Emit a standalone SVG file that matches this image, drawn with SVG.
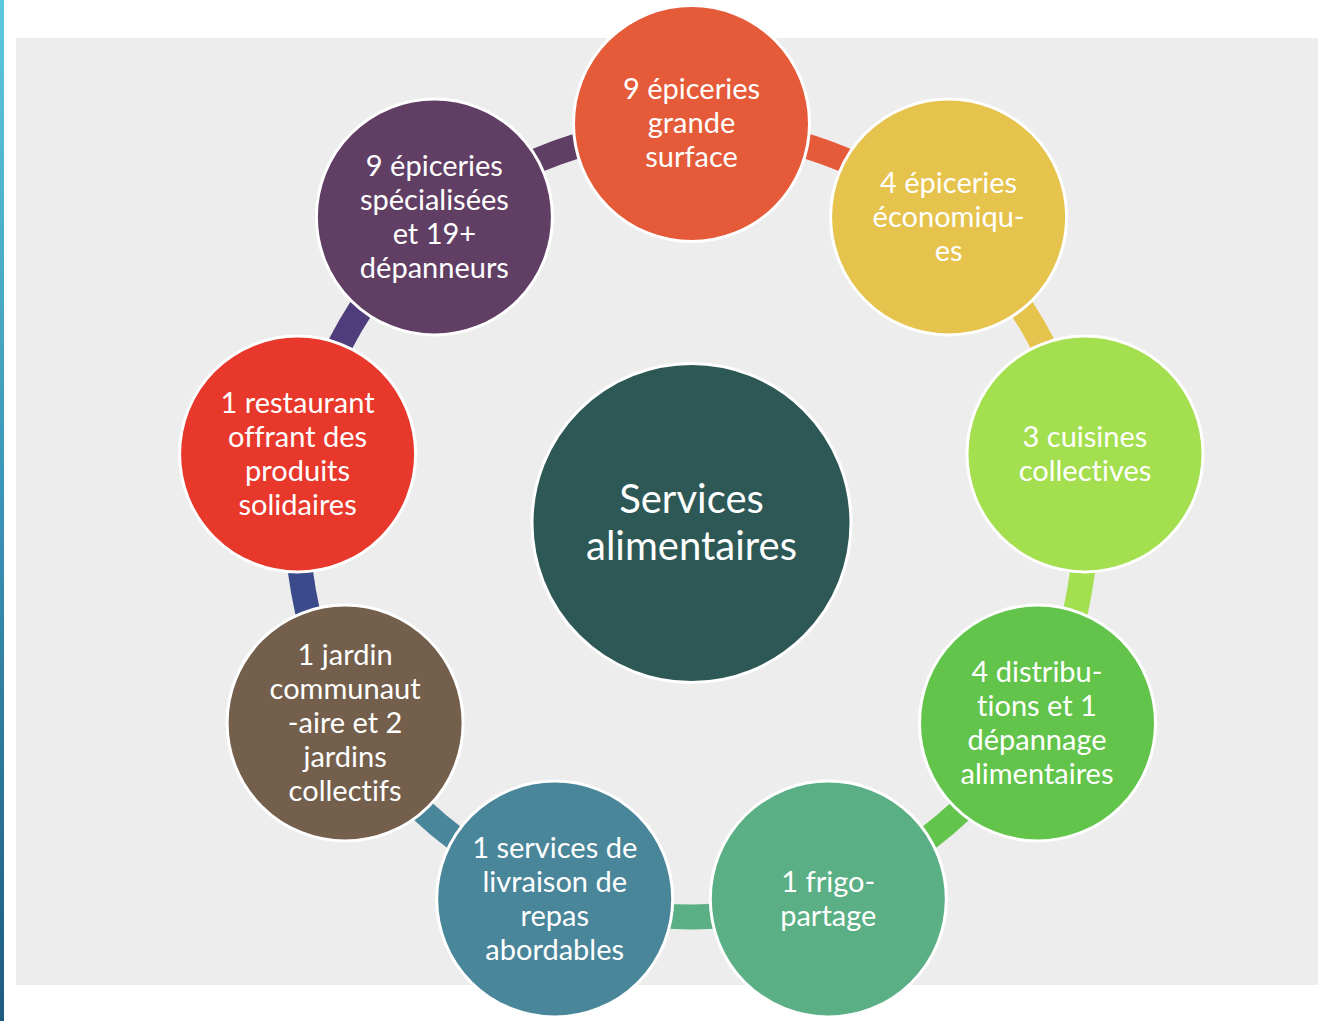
<svg xmlns="http://www.w3.org/2000/svg" width="1318" height="1021" viewBox="0 0 1318 1021">
<defs>
<linearGradient id="bar" x1="0" y1="0" x2="0" y2="1">
<stop offset="0" stop-color="#5CC8DD"/>
<stop offset="0.5" stop-color="#3A93B5"/>
<stop offset="1" stop-color="#1E5B80"/>
</linearGradient>
<style>
.n{stroke:#FFFFFF;stroke-width:3}
.t{font-family:Lato,"Open Sans","Liberation Sans",sans-serif;font-size:29px;fill:#FFFFFF;text-anchor:middle;font-variant-ligatures:none}
.tc{font-family:Lato,"Open Sans","Liberation Sans",sans-serif;font-size:40px;fill:#FFFFFF;text-anchor:middle;font-variant-ligatures:none}
.c{fill:none;stroke-width:25}
</style>
</defs>
<rect x="0" y="0" width="1318" height="1021" fill="#FFFFFF"/>
<rect x="0" y="0" width="4" height="1021" fill="url(#bar)"/>
<rect x="16" y="38" width="1302" height="947" fill="#EDEDED"/>
<g id="connectors">
<path class="c" stroke="#E55A38" d="M691.5,129 A394,394 0 0 1 944.8,221.2"/>
<path class="c" stroke="#E6C34C" d="M944.8,221.2 A394,394 0 0 1 1079.5,454.6"/>
<path class="c" stroke="#A3DF4F" d="M1079.5,454.6 A394,394 0 0 1 1032.7,720"/>
<path class="c" stroke="#62C44A" d="M1032.7,720 A394,394 0 0 1 826.2,893.2"/>
<path class="c" stroke="#5AAF84" d="M826.2,893.2 A394,394 0 0 1 556.8,893.2"/>
<path class="c" stroke="#4A869A" d="M556.8,893.2 A394,394 0 0 1 350.3,720"/>
<path class="c" stroke="#3A4A8A" d="M350.3,720 A394,394 0 0 1 303.5,454.6"/>
<path class="c" stroke="#4F3C7A" d="M303.5,454.6 A394,394 0 0 1 438.2,221.2"/>
<path class="c" stroke="#5F3F65" d="M438.2,221.2 A394,394 0 0 1 691.5,129"/>
</g>
<g id="center">
<circle class="n" cx="691.5" cy="523" r="159.5" fill="#2D5856"/>
<text class="tc" x="691.5" y="513">Services</text>
<text class="tc" x="691.5" y="560">alimentaires</text>
</g>
<g id="n1">
<circle class="n" cx="691.5" cy="123.5" r="118" fill="#E55A38"/>
<text class="t" x="691.5" y="99">9 épiceries</text>
<text class="t" x="691.5" y="133">grande</text>
<text class="t" x="691.5" y="167">surface</text>
</g>
<g id="n2">
<circle class="n" cx="948.6" cy="217" r="118" fill="#E6C34C"/>
<text class="t" x="948.6" y="193">4 épiceries</text>
<text class="t" x="948.6" y="227">économiqu-</text>
<text class="t" x="948.6" y="261">es</text>
</g>
<g id="n3">
<circle class="n" cx="1085" cy="454" r="118" fill="#A3DF4F"/>
<text class="t" x="1085" y="447">3 cuisines</text>
<text class="t" x="1085" y="481">collectives</text>
</g>
<g id="n4">
<circle class="n" cx="1037.5" cy="723" r="118" fill="#62C44A"/>
<text class="t" x="1037" y="682">4 distribu-</text>
<text class="t" x="1037" y="716">tions et 1</text>
<text class="t" x="1037" y="750">dépannage</text>
<text class="t" x="1037" y="784">alimentaires</text>
</g>
<g id="n5">
<circle class="n" cx="828.3" cy="899" r="118" fill="#5AAF84"/>
<text class="t" x="828.3" y="892">1 frigo-</text>
<text class="t" x="828.3" y="926">partage</text>
</g>
<g id="n6">
<circle class="n" cx="554.7" cy="899" r="118" fill="#4A869A"/>
<text class="t" x="554.7" y="858">1 services de</text>
<text class="t" x="554.7" y="892">livraison de</text>
<text class="t" x="554.7" y="926">repas</text>
<text class="t" x="554.7" y="960">abordables</text>
</g>
<g id="n7">
<circle class="n" cx="345.1" cy="723" r="118" fill="#735F4C"/>
<text class="t" x="345.1" y="665">1 jardin</text>
<text class="t" x="345.1" y="699">communaut</text>
<text class="t" x="345.1" y="733">-aire et 2</text>
<text class="t" x="345.1" y="767">jardins</text>
<text class="t" x="345.1" y="801">collectifs</text>
</g>
<g id="n8">
<circle class="n" cx="297.6" cy="454" r="118" fill="#E8382B"/>
<text class="t" x="297.6" y="413">1 restaurant</text>
<text class="t" x="297.6" y="447">offrant des</text>
<text class="t" x="297.6" y="481">produits</text>
<text class="t" x="297.6" y="515">solidaires</text>
</g>
<g id="n9">
<circle class="n" cx="434.4" cy="217" r="118" fill="#613F65"/>
<text class="t" x="434.4" y="176">9 épiceries</text>
<text class="t" x="434.4" y="210">spécialisées</text>
<text class="t" x="434.4" y="244">et 19+</text>
<text class="t" x="434.4" y="278">dépanneurs</text>
</g>
</svg>
